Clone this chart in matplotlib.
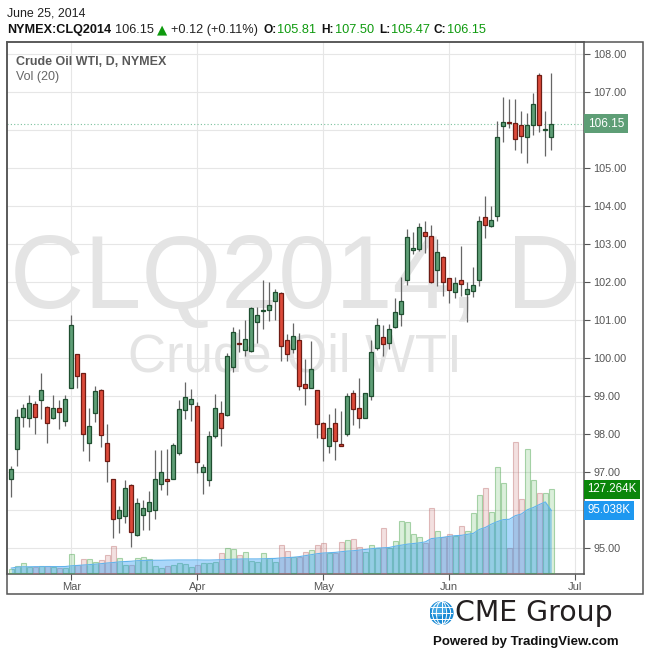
# coding:utf-8
# Crude Oil WTI (CLQ2014) daily candles with Vol(20), TradingView style

import matplotlib
matplotlib.use('Agg')
from matplotlib import pyplot as plt
from matplotlib import transforms
from matplotlib.patches import Rectangle, Circle, Ellipse

# bar index on the x axis (one bar per trading day)
opens = [96.79, 97.58, 98.44, 98.40, 98.77, 98.87, 98.70, 98.42, 98.66, 98.32,
         99.21, 100.08, 99.58, 97.74, 98.53, 99.14, 97.74, 96.79, 95.77, 95.82,
         96.64, 95.32, 95.85, 95.95, 96.00, 96.66, 96.78, 96.79, 97.50, 98.61,
         98.77, 98.72, 96.98, 96.77, 97.94, 98.53, 98.50, 99.76, 100.38, 100.21,
         100.16, 100.93, 101.22, 101.24, 101.50, 101.69, 100.45, 100.22, 100.45, 99.29,
         99.19, 99.14, 98.27, 97.66, 98.27, 97.72, 98.00, 99.06, 98.66, 98.42,
         98.98, 100.24, 100.54, 100.37, 100.81, 101.14, 102.03, 102.84, 102.86, 103.31,
         103.19, 102.29, 102.65, 102.08, 101.72, 102.03, 101.66, 101.74, 102.03, 103.69,
         103.47, 103.73, 106.08, 106.19, 106.17, 106.11, 105.79, 106.13, 107.43, 105.98,
         105.81]
highs = [97.14, 98.64, 98.78, 99.01, 98.85, 99.59, 98.72, 99.01, 98.88, 99.01,
         101.12, 100.10, 99.60, 98.66, 99.25, 99.16, 98.25, 96.80, 96.08, 96.77,
         96.66, 96.29, 96.24, 96.48, 97.56, 97.56, 97.58, 97.74, 98.88, 99.35,
         99.16, 98.84, 97.20, 98.07, 99.04, 98.86, 100.13, 100.81, 100.75, 100.99,
         101.34, 101.34, 102.04, 101.99, 101.79, 101.72, 100.62, 100.91, 100.64, 99.96,
         100.43, 99.15, 98.29, 98.51, 98.67, 98.59, 99.06, 99.14, 99.46, 99.06,
         100.46, 101.03, 100.86, 100.88, 101.56, 102.11, 103.37, 103.30, 103.55, 103.58,
         103.48, 103.11, 102.66, 102.10, 102.11, 102.93, 101.98, 102.39, 103.73, 104.25,
         104.00, 106.23, 106.86, 106.79, 106.79, 106.49, 106.43, 106.97, 107.50, 106.49,
         107.50]
lows = [96.32, 97.15, 98.18, 98.18, 97.99, 98.37, 97.76, 98.37, 98.11, 98.21,
        99.20, 99.21, 97.55, 97.28, 98.31, 97.64, 96.73, 95.26, 95.37, 95.65,
        95.02, 95.29, 95.47, 95.47, 95.76, 96.52, 96.39, 96.79, 97.43, 98.37,
        98.32, 96.95, 96.40, 96.63, 97.87, 97.68, 98.47, 99.63, 100.15, 100.05,
        100.14, 100.39, 100.74, 100.97, 100.99, 99.92, 99.92, 100.13, 99.15, 98.76,
        99.19, 97.89, 97.28, 97.48, 97.29, 97.66, 97.93, 98.22, 98.14, 98.40,
        98.87, 100.20, 100.05, 100.22, 100.77, 100.84, 101.92, 102.72, 102.81, 102.74,
        101.95, 101.88, 101.63, 101.43, 101.56, 101.63, 100.94, 101.60, 101.88, 103.14,
        103.43, 103.60, 105.68, 106.03, 105.46, 105.39, 105.13, 105.85, 105.94, 105.29,
        105.47]
closes = [97.06, 98.43, 98.66, 98.79, 98.44, 99.14, 98.27, 98.66, 98.56, 98.90,
          100.85, 99.51, 97.98, 98.21, 99.11, 97.95, 97.27, 95.74, 95.98, 96.56,
          95.40, 96.16, 96.03, 96.21, 96.79, 96.98, 96.76, 97.69, 98.64, 98.95,
          98.92, 97.24, 97.11, 97.93, 98.66, 98.15, 100.03, 100.66, 100.35, 100.50,
          101.29, 101.11, 101.25, 101.37, 101.73, 100.29, 100.08, 100.56, 99.24, 99.19,
          99.69, 98.24, 97.87, 98.14, 97.79, 97.66, 99.00, 98.64, 98.40, 99.06,
          100.14, 100.85, 100.36, 100.74, 101.19, 101.48, 103.16, 102.86, 103.43, 103.19,
          101.98, 102.77, 101.98, 101.77, 101.95, 101.93, 101.79, 101.92, 103.58, 103.48,
          103.61, 105.79, 106.20, 106.18, 105.76, 105.84, 106.11, 106.67, 106.11, 106.02,
          106.15]
# volume in thousands
volume = [5, 9.7, 14.3, 8, 8, 9.7, 9.7, 8, 6.7, 6.7,
          28, 11.2, 20.4, 20.4, 15.8, 18.9, 26.5, 40.2, 21.9, 11,
          11, 21.9, 23.5, 20.4, 9.7, 6.7, 9.7, 11.2, 14.3, 13,
          9.2, 11.7, 15.3, 15.3, 16.8, 29.6, 37.2, 35.6, 26.4, 31.0,
          18, 17, 29.6, 21.9, 15.8, 41.8, 32.6, 23.4, 23.4, 31.0,
          34.1, 41.8, 44.9, 30.5, 29.6, 46.4, 49.5, 51.1, 38.8, 31.0,
          41.8, 38, 67.7, 38.4, 47.8, 78.3, 76.8, 58.4, 54.9, 45.8,
          98.2, 63.0, 54.9, 59.5, 55.9, 70.7, 63.0, 90.4, 119.2, 129.9,
          91.9, 160.7, 136.3, 38.4, 198.9, 112.1, 188.3, 140.8, 121.0, 121.0,
          127.264]
# Vol(20) moving average, thousands
vol_ma = [7, 8.5, 9, 9, 9.2, 9.2, 9.3, 9.3, 9.3, 9.4,
          10.5, 11, 11.7, 12.3, 13, 13.8, 14.8, 15.5, 16.5, 17,
          17.5, 18.3, 18.6, 18.8, 19, 19, 19.2, 19.3, 19.4, 19.4,
          19.4, 19.5, 19.3, 19.3, 19.5, 19.8, 20.2, 20.6, 20.8, 21,
          21, 21, 21.2, 21.5, 21.8, 22.5, 23, 23.5, 24.5, 26,
          27.5, 29, 30, 30.5, 31, 32, 33, 33.5, 34.5, 35.5,
          36.5, 37.5, 38, 38.5, 40.5, 42, 43.5, 44.5, 45.5, 47,
          52, 53, 54, 55.5, 56.5, 57, 58.5, 60, 66, 69,
          74, 78, 81, 81.5, 87, 89.5, 96, 99.5, 104, 108,
          95.038]

month_ticks = [10, 31, 52, 73, 94]
month_labels = ['Mar', 'Apr', 'May', 'Jun', 'Jul']
price_ticks = list(range(95, 109))
hidden_ticks = [96, 106]   # covered by the last-value labels on the scale
last_price = 106.15
last_volume = 127.264
last_vol_ma = 95.038

W, H = 650, 652
fig = plt.figure(figsize=(W / 100, H / 100), dpi=100)
fig.patch.set_facecolor('white')

# plot area in pixels
left, right, top, bottom = 6.7, 584, 42.3, 574
rect = [left / W, 1 - bottom / H, (right - left) / W, (bottom - top) / H]

GREEN = '#5e9e76'
GREEN_EDGE = '#1f4f30'
RED = '#dc4a3a'
RED_EDGE = '#6e1c14'
AXIS = '#555555'
GRID = '#e6e6e6'

xs = list(range(len(closes)))
up = [c >= o for o, c in zip(opens, closes)]

# volume pane
axv = fig.add_axes(rect, zorder=1)
axv.set_xlim(-0.77, 95.45)
axv.set_ylim(-2, 809.4)
axv.axis('off')
vcol = [(0.30, 0.69, 0.31, 0.2) if u else (0.78, 0.40, 0.40, 0.2) for u in up]
vedge = [(0.30, 0.65, 0.31, 0.45) if u else (0.75, 0.45, 0.45, 0.45) for u in up]
axv.bar(xs, volume, width=0.92, color=vcol, edgecolor=vedge, linewidth=0.8)
axv.fill_between(xs, 0, vol_ma, color='#2196f3', alpha=0.38, linewidth=0)
axv.plot(xs, vol_ma, color='#62b3ec', linewidth=0.8)

# price axes
ax = fig.add_axes(rect, zorder=2)
ax.patch.set_visible(False)
ax.set_xlim(-0.77, 95.45)
ax.set_ylim(94.303, 108.295)

for x in month_ticks:
    ax.axvline(x, color=GRID, linewidth=0.8, zorder=0)
for p in price_ticks:
    ax.axhline(p, color=GRID, linewidth=0.8, zorder=0)

# candles
body_col = [GREEN if u else RED for u in up]
body_edge = [GREEN_EDGE if u else RED_EDGE for u in up]
ax.vlines(xs, lows, highs, color='#666666', linewidth=0.9, zorder=3)
heights = [max(abs(c - o), 0.03) for o, c in zip(opens, closes)]
bottoms = [min(o, c) for o, c in zip(opens, closes)]
ax.bar(xs, heights, bottom=bottoms, width=0.72, color=body_col,
       edgecolor=body_edge, linewidth=0.9, zorder=4)

ax.axhline(last_price, color='#7cc29e', linestyle=(0, (1, 2)), linewidth=0.8, zorder=2)

# axes look
ax.yaxis.tick_right()
ax.set_yticks(price_ticks)
ax.set_yticklabels(['' if p in hidden_ticks else '%.2f' % p for p in price_ticks])
ax.set_xticks(month_ticks)
ax.set_xticklabels(month_labels)
ax.tick_params(axis='y', length=4, width=0.8, color=AXIS, labelcolor='#555555',
               labelsize=7.8, pad=2.5)
ax.tick_params(axis='x', length=4, width=0.8, color=AXIS, labelcolor='#555555',
               labelsize=8, pad=2)
for lab in ax.get_xticklabels() + ax.get_yticklabels():
    lab.set_family('Liberation Sans')
for s in ax.spines.values():
    s.set_color(AXIS)
    s.set_linewidth(1.1)

# outer frame around plot + scales
fig.patches.append(Rectangle((left / W, 1 - 594 / H), (642.5 - left) / W, (594 - top) / H,
                             transform=fig.transFigure, fill=False,
                             edgecolor=AXIS, linewidth=1.1, zorder=5))

# last value labels on the scale
ax.annotate('%.2f' % last_price, xy=(1, last_price), xycoords=('axes fraction', 'data'),
            xytext=(2.6, 0), textcoords='offset points', ha='left', va='center',
            color='white', fontsize=8.5, family='Liberation Sans', annotation_clip=False,
            bbox=dict(boxstyle='square,pad=0.3', fc=GREEN, ec='none'), zorder=10)
vtrans = transforms.blended_transform_factory(axv.transAxes, axv.transData)
axv.annotate('%.3fK' % last_volume, xy=(1, last_volume), xycoords=vtrans,
             xytext=(2.4, 0), textcoords='offset points', ha='left', va='center',
             color='white', fontsize=8.3, family='Liberation Sans', annotation_clip=False,
             bbox=dict(boxstyle='square,pad=0.28', fc='#0a860a', ec='none'), zorder=10)
axv.annotate('%.3fK' % last_vol_ma, xy=(1, last_vol_ma), xycoords=vtrans,
             xytext=(2.4, 0), textcoords='offset points', ha='left', va='center',
             color='white', fontsize=8.3, family='Liberation Sans', annotation_clip=False,
             bbox=dict(boxstyle='square,pad=0.28', fc='#1e98f0', ec='none'), zorder=10)
axv.set_zorder(3)  # labels must sit over the price scale
axv.patch.set_visible(False)

# watermark
ax.text(0.5, (574 - 281) / (574 - 42.3), 'CLQ2014, D', transform=ax.transAxes,
        ha='center', va='center', fontsize=74, color='#e4e4e4',
        family='Liberation Sans', zorder=1)
ax.text(0.5, (574 - 357) / (574 - 42.3), 'Crude Oil WTI', transform=ax.transAxes,
        ha='center', va='center', fontsize=38, color='#e4e4e4',
        family='Liberation Sans', zorder=1)


def ftext(px, py, s, **kw):
    kw.setdefault('family', 'Liberation Sans')
    fig.text(px / W, 1 - py / H, s, ha='left', va='baseline', **kw)


# header
ftext(6.7, 16, 'June 25, 2014', fontsize=8.9, color='#222222')
HG = '#0e9a0e'
ftext(6.7, 33, 'NYMEX:CLQ2014', fontsize=9.1, weight='bold', color='#111111')
ftext(115, 33, '106.15', fontsize=9.2, color='#222222')
ftext(157, 33, '\u25b2', fontsize=9.5, color=HG, family='DejaVu Sans')
ftext(171, 33, '+0.12 (+0.11%)', fontsize=9.2, color='#222222')
ftext(263, 33, 'O:', fontsize=8.6, weight='bold', color='#111111')
ftext(277, 33, '105.81', fontsize=9.2, color=HG)
ftext(321, 33, 'H:', fontsize=8.6, weight='bold', color='#111111')
ftext(335, 33, '107.50', fontsize=9.2, color=HG)
ftext(379, 33, 'L:', fontsize=8.6, weight='bold', color='#111111')
ftext(391.5, 33, '105.47', fontsize=9.2, color=HG)
ftext(433, 33, 'C:', fontsize=8.6, weight='bold', color='#111111')
ftext(446.5, 33, '106.15', fontsize=9.2, color=HG)

# legend inside the chart
ftext(15.7, 65, 'Crude Oil WTI, D, NYMEX', fontsize=9, weight='bold', color='#595959')
ftext(15.7, 80, 'Vol (20)', fontsize=9, color='#666666')

# CME Group logo + powered by
gax = fig.add_axes([429 / W, 1 - 625 / H, 25 / W, 24 / H])
gax.set_xlim(-1.05, 1.05)
gax.set_ylim(-1.05, 1.05)
gax.set_aspect('equal')
gax.axis('off')
gax.add_patch(Circle((0, 0), 1, color='#1a8ad4'))
gax.add_patch(Circle((-0.25, 0.3), 0.55, color='#5cb8ee', alpha=0.6))
for yy in (-0.55, 0, 0.55):
    gax.plot([-0.95, 0.95], [yy, yy], color='white', linewidth=0.7)
for w in (0.9, 1.6):
    gax.add_patch(Ellipse((0, 0), w, 2, fill=False, ec='white', linewidth=0.7))
gax.plot([0, 0], [-1, 1], color='white', linewidth=0.7)

ftext(455, 621, 'CME Group', fontsize=20.4, color='#231f20', family='DejaVu Sans')
ftext(433, 645, 'Powered by TradingView.com', fontsize=9.5, weight='bold', color='#111111')

plt.savefig('out.png', dpi=100)
